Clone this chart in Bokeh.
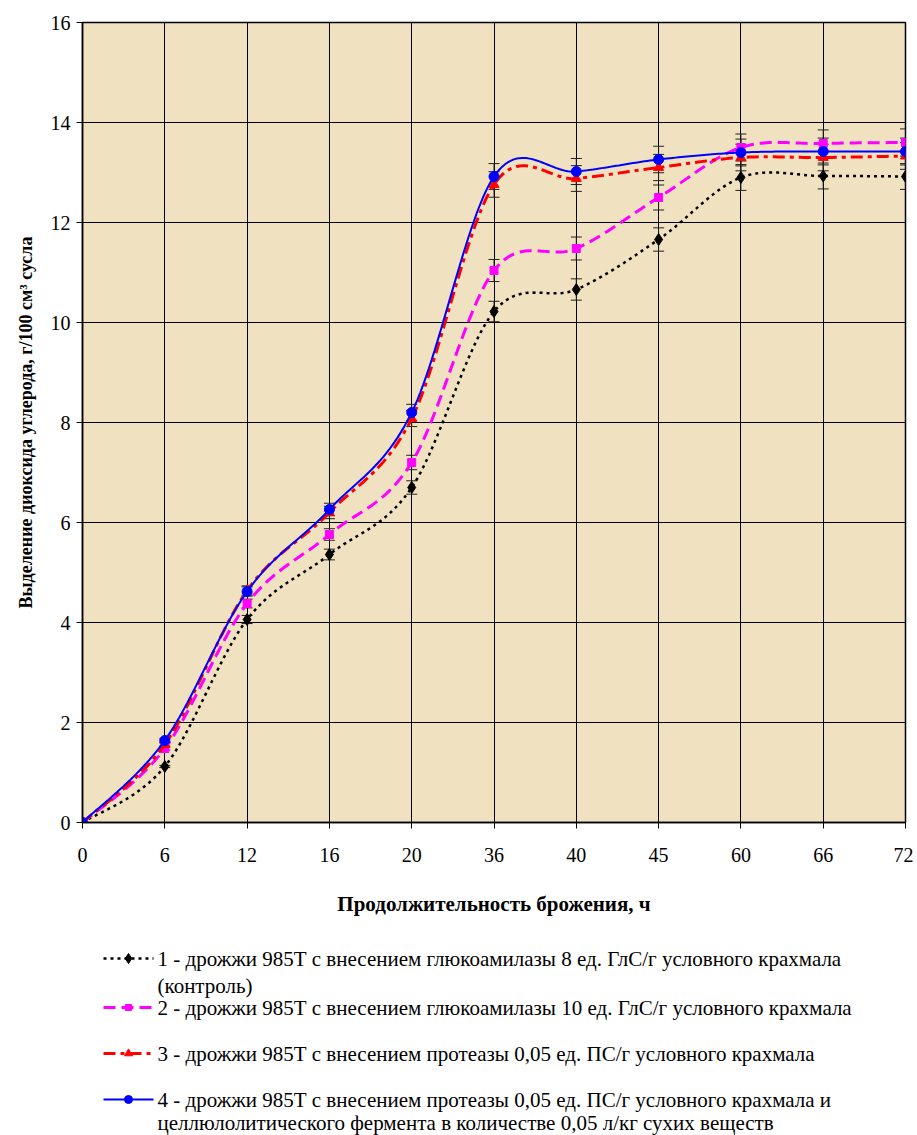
import numpy as np
from bokeh.plotting import figure
from bokeh.layouts import column
from bokeh.models import Range1d, FixedTicker, Whisker, TeeHead, ColumnDataSource
from bokeh.core.properties import value
from bokeh.embed import file_html
from bokeh.resources import INLINE

# ---------------- data ----------------
hours = ["0", "6", "12", "16", "20", "36", "40", "45", "60", "66", "72"]
s1 = [0.0, 1.12, 4.06, 5.36, 6.70, 10.22, 10.66, 11.66, 12.90, 12.93, 12.92]
s2 = [0.0, 1.48, 4.38, 5.76, 7.20, 11.04, 11.48, 12.50, 13.50, 13.58, 13.60]
s3 = [0.0, 1.56, 4.64, 6.20, 8.08, 12.76, 12.88, 13.10, 13.30, 13.30, 13.33]
s4 = [0.0, 1.64, 4.62, 6.26, 8.20, 12.92, 13.02, 13.26, 13.40, 13.42, 13.42]
err_pct = 0.02  # percentage error bars

labels = [
    ["1 - дрожжи 985Т с внесением глюкоамилазы 8 ед. ГлС/г условного крахмала", "(контроль)"],
    ["2 - дрожжи 985Т с внесением глюкоамилазы 10 ед. ГлС/г условного крахмала"],
    ["3 - дрожжи 985Т с внесением протеазы 0,05 ед. ПС/г условного крахмала"],
    ["4 - дрожжи 985Т с внесением протеазы 0,05 ед. ПС/г условного крахмала и",
     "целлюлолитического фермента в количестве 0,05 л/кг сухих веществ"],
]

FONT = "Liberation Serif"
styles = [
    dict(color="black", dash="3 4", width=2.5, marker="diamond", msize=12),
    dict(color="#FF00FF", dash="12 6", width=3, marker="square", msize=8),
    dict(color="#FF0000", dash="12 5 4 5", width=3, marker="triangle", msize=10),
    dict(color="#0000FF", dash="solid", width=2, marker="circle", msize=10),
]
series = [s1, s2, s3, s4]


def smooth(xs, ys, n=30):
    P = np.column_stack([xs, ys]).astype(float)
    m = len(P)
    out = [P[0]]
    for i in range(m - 1):
        p0 = P[i - 1] if i > 0 else P[i]
        p1 = P[i]
        p2 = P[i + 1]
        p3 = P[i + 2] if i + 2 < m else P[i + 1]
        c1 = p1 + (p2 - p0) / 6.0
        c2 = p2 - (p3 - p1) / 6.0
        t = np.linspace(0, 1, n)[1:, None]
        seg = ((1 - t) ** 3) * p1 + 3 * ((1 - t) ** 2) * t * c1 + 3 * (1 - t) * t ** 2 * c2 + t ** 3 * p2
        out.extend(seg)
    out = np.array(out)
    return out[:, 0], out[:, 1]


xidx = list(range(len(hours)))

p = figure(width=913, height=930, output_backend="svg", toolbar_location=None,
           x_range=Range1d(0, 10), y_range=Range1d(0, 16),
           min_border_left=82, min_border_right=8, min_border_top=22, min_border_bottom=108)
p.background_fill_color = "#F0E2C1"
p.border_fill_color = "white"
p.outline_line_color = "black"
p.outline_line_width = 1.5

p.xaxis.ticker = FixedTicker(ticks=xidx)
p.xaxis.major_label_overrides = {i: h for i, h in enumerate(hours)}
p.yaxis.ticker = FixedTicker(ticks=list(range(0, 17, 2)))
for ax in (p.xaxis[0], p.yaxis[0]):
    ax.axis_line_color = "black"
    ax.axis_line_width = 1.5
    ax.major_tick_line_color = "black"
    ax.major_tick_out = 6
    ax.major_tick_in = 0
    ax.minor_tick_line_color = None
    ax.major_label_text_font = FONT
    ax.major_label_text_font_size = "20px"
    ax.major_label_text_color = "black"
    ax.axis_label_text_font = FONT
    ax.axis_label_text_font_style = "bold"
    ax.axis_label_text_color = "black"

p.xaxis.major_label_standoff = 19
p.xaxis.axis_label = "Продолжительность брожения, ч"
p.xaxis.axis_label_text_font_size = "21px"
p.xaxis.axis_label_standoff = 27
p.yaxis.major_label_standoff = 6
p.yaxis.axis_label = "Выделение диоксида углерода, г/100 см³ сусла"
p.yaxis.axis_label_text_font_size = "18px"
p.yaxis.axis_label_standoff = 12

p.grid.grid_line_color = "black"
p.grid.grid_line_width = 1
p.grid.grid_line_alpha = 1

# error bars
for s in series:
    lo = [v * (1 - err_pct) for v in s]
    hi = [v * (1 + err_pct) for v in s]
    src = ColumnDataSource(dict(x=xidx, lo=lo, hi=hi))
    w = Whisker(source=src, base="x", lower="lo", upper="hi",
                line_color="#222222", line_width=1,
                upper_head=TeeHead(size=11, line_color="#222222", line_width=1),
                lower_head=TeeHead(size=11, line_color="#222222", line_width=1))
    p.add_layout(w)

for s, st in zip(series, styles):
    sx, sy = smooth(xidx, s)
    p.line(sx, sy, line_color=st["color"], line_width=st["width"], line_dash=st["dash"])
    p.scatter(xidx, s, marker=st["marker"], size=st["msize"], fill_color=st["color"],
              line_color=st["color"])

# ---------------- legend figure ----------------
# the column layout aligns this frame with the chart frame (x 82..905)
lg = figure(width=913, height=205, output_backend="svg", toolbar_location=None,
            x_range=Range1d(82, 905), y_range=Range1d(1135, 930),
            min_border=0, min_border_left=82, min_border_right=8,
            min_border_top=0, min_border_bottom=0)
lg.axis.visible = False
lg.grid.visible = False
lg.outline_line_color = None
lg.background_fill_color = "white"
lg.border_fill_color = "white"

rows_y = [[958, 985], [1007], [1053], [1099, 1122]]
for st, lab, ys in zip(styles, labels, rows_y):
    y0 = ys[0]
    lg.line([103, 153], [y0, y0], line_color=st["color"], line_width=st["width"], line_dash=st["dash"])
    lg.scatter([128], [y0], marker=st["marker"], size=st["msize"] - 2, fill_color=st["color"],
               line_color=st["color"])
    lg.text([157] * len(lab), ys, text=lab, text_font=value(FONT), text_font_size="21px",
            text_baseline="middle", text_align="left", text_color="black")

layout = column(p, lg, spacing=0)
open("out.html", "w").write(file_html(layout, INLINE))
